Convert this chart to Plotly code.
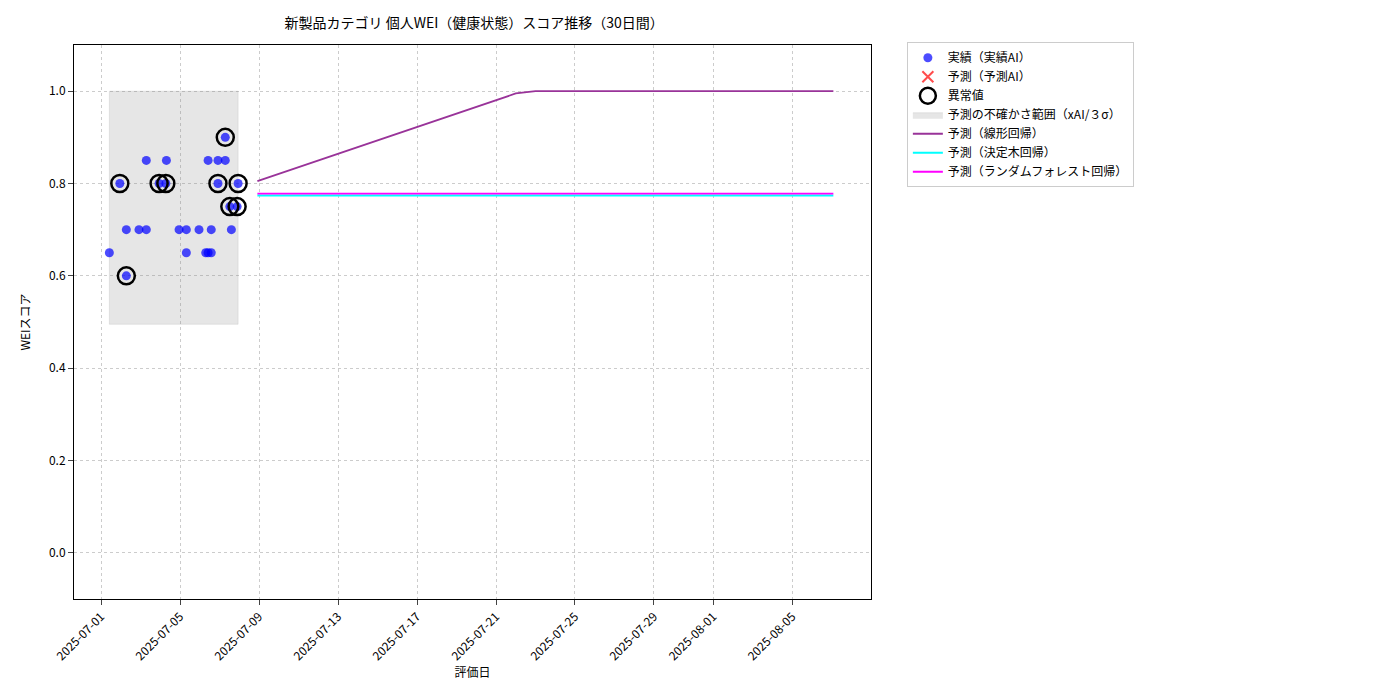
import plotly.graph_objects as go

actual_dates = ["2025-07-01 10:05","2025-07-01 22:48","2025-07-02 06:43","2025-07-02 06:43","2025-07-02 22:05",
    "2025-07-03 07:00","2025-07-03 07:00","2025-07-03 22:33","2025-07-04 06:43","2025-07-04 07:26",
    "2025-07-04 22:48","2025-07-05 07:40","2025-07-05 07:40","2025-07-05 23:02","2025-07-06 07:12",
    "2025-07-06 10:05","2025-07-06 10:05","2025-07-06 13:55","2025-07-06 13:55","2025-07-06 22:05",
    "2025-07-06 22:05","2025-07-07 06:58","2025-07-07 06:58","2025-07-07 12:29","2025-07-07 14:24",
    "2025-07-07 21:22","2025-07-07 22:34"]
actual_vals = [0.65,0.80,0.60,0.70,0.70,0.70,0.85,0.80,0.80,0.85,0.70,0.70,0.65,0.70,0.65,
    0.65,0.85,0.70,0.65,0.80,0.85,0.85,0.90,0.75,0.70,0.75,0.80]
anomaly = [0,1,1,0,0,0,0,1,1,0,0,0,0,0,0,0,0,0,0,1,0,0,1,1,0,1,1]

band_x = ["2025-07-01 10:05","2025-07-07 22:34"]
band_y = [0.495, 1.0]

lin_dates = ["2025-07-08 22:00","2025-07-22 00:00","2025-07-23 00:00","2025-08-07 02:00"]
lin_vals = [0.805,0.995,1.0,1.0]
flat_dates = ["2025-07-08 22:00","2025-08-07 02:00"]
tree_vals = [0.774,0.774]
rf_vals = [0.778,0.778]

tick_dates = ["2025-07-01","2025-07-05","2025-07-09","2025-07-13","2025-07-17","2025-07-21",
              "2025-07-25","2025-07-29","2025-08-01","2025-08-05"]

fig = go.Figure()
fig.add_trace(go.Scatter(x=[band_x[0], band_x[1], band_x[1], band_x[0], band_x[0]],
    y=[band_y[0], band_y[0], band_y[1], band_y[1], band_y[0]], mode="lines", fill="toself",
    fillcolor="rgba(128,128,128,0.2)", line=dict(width=0.5, color="rgba(128,128,128,0.3)"),
    name="予測の不確かさ範囲（xAI/３σ）", legendrank=4))
fig.add_trace(go.Scatter(x=actual_dates, y=actual_vals, mode="markers", name="実績（実績AI）",
    marker=dict(color="rgba(0,0,255,0.7)", size=9), legendrank=1))
fig.add_trace(go.Scatter(x=[None], y=[None], mode="markers", name="予測（予測AI）",
    marker=dict(color="rgba(255,0,0,0.7)", size=11, symbol="x-thin", line=dict(color="rgba(255,0,0,0.7)", width=2)),
    legendrank=2))
ax = [d for d, a in zip(actual_dates, anomaly) if a]
ay = [v for v, a in zip(actual_vals, anomaly) if a]
fig.add_trace(go.Scatter(x=ax, y=ay, mode="markers", name="異常値",
    marker=dict(color="rgba(0,0,0,0)", size=17, line=dict(color="black", width=2.5)), legendrank=3))
fig.add_trace(go.Scatter(x=lin_dates, y=lin_vals, mode="lines", name="予測（線形回帰）",
    line=dict(color="#993399", width=1.8), legendrank=5))
fig.add_trace(go.Scatter(x=flat_dates, y=tree_vals, mode="lines", name="予測（決定木回帰）",
    line=dict(color="cyan", width=1.8), legendrank=6))
fig.add_trace(go.Scatter(x=flat_dates, y=rf_vals, mode="lines", name="予測（ランダムフォレスト回帰）",
    line=dict(color="magenta", width=1.8), legendrank=7))

fig.update_layout(
    width=1400, height=700, plot_bgcolor="white", paper_bgcolor="white",
    font=dict(family="Noto Sans CJK JP", size=12, color="black"),
    margin=dict(l=66, r=537, t=37, b=109, autoexpand=False),
    title=dict(text="新製品カテゴリ 個人WEI（健康状態）スコア推移（30日間）", x=0.333, xanchor="center",
               y=0.985, yanchor="top", font=dict(size=14)),
    legend=dict(x=1.045, y=1.005, xanchor="left", yanchor="top", bordercolor="#cccccc", borderwidth=1,
                font=dict(size=12), tracegroupgap=0),
)
fig.update_xaxes(range=["2025-06-29 15:07","2025-08-08 23:45"], tickvals=tick_dates, ticktext=tick_dates,
    tickangle=-45, showgrid=True, gridcolor="#cccccc", griddash="dot", showline=True, linecolor="black",
    mirror=True, ticks="outside", automargin=False, title=dict(text="評価日", standoff=4, font=dict(size=12)), zeroline=False)
fig.update_yaxes(range=[-0.1, 1.1], tickvals=[0,0.2,0.4,0.6,0.8,1.0], ticktext=["0.0","0.2","0.4","0.6","0.8","1.0"],
    showgrid=True, gridcolor="#cccccc", griddash="dot", showline=True, linecolor="black", mirror=True,
    ticks="outside", automargin=False, title=dict(text="WEIスコア", font=dict(size=12)), zeroline=False)
fig.write_html("out.html")
